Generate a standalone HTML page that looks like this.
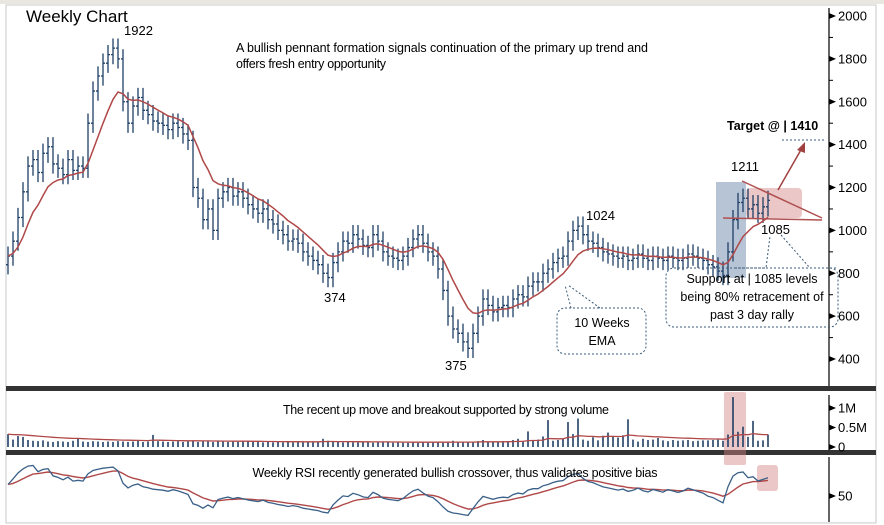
<!DOCTYPE html>
<html><head><meta charset="utf-8">
<style>
html,body{margin:0;padding:0;background:#fff;}
svg{display:block;font-family:"Liberation Sans Narrow","Liberation Sans",sans-serif;}
</style></head>
<body>
<svg id="chart" width="884" height="525" viewBox="0 0 884 525" xmlns="http://www.w3.org/2000/svg">
<rect x="0" y="0" width="884" height="525" fill="#fff"/>
<rect x="0" y="0" width="884" height="4" fill="#e8e8e0"/>
<rect x="6" y="5" width="870" height="518" fill="none" stroke="#c8c8c8"/>
<line x1="829" y1="8" x2="829" y2="386" stroke="#000" stroke-width="1.2"/>
<line x1="829" y1="395" x2="829" y2="450" stroke="#000" stroke-width="1.2"/>
<line x1="829" y1="457" x2="829" y2="522" stroke="#000" stroke-width="1.2"/>
<rect x="6" y="386" width="870" height="5" fill="#333"/>
<rect x="6" y="450" width="870" height="5" fill="#333"/>
<g id="annot-back"></g>
<g id="marks"></g>
<g id="axes"></g>
<g id="annot" font-size="12.5" fill="#000">
<text x="26" y="22" font-size="17">Weekly Chart</text>
<text x="124" y="35" font-size="13">1922</text>
<text x="236" y="52" textLength="412">A bullish pennant formation  signals continuation of the primary up trend and</text>
<text x="236" y="68" textLength="150">offers fresh entry opportunity</text>
<text x="324" y="302" font-size="13">374</text>
<text x="445" y="370" font-size="13">375</text>
<text x="586" y="220" font-size="13">1024</text>
<text x="731" y="171" font-size="13">1211</text>
<text x="761" y="234" font-size="13">1085</text>
<text x="727" y="130" font-size="12.5" font-weight="bold">Target @ | 1410</text>
<line x1="782" y1="140" x2="824" y2="140" stroke="#3a5a7a" stroke-dasharray="2,2"/>
<line x1="742" y1="181" x2="822" y2="218" stroke="#b05050" stroke-width="1.5"/>
<line x1="723" y1="218" x2="822" y2="220" stroke="#b05050" stroke-width="1.5"/>
<line x1="778" y1="190" x2="802" y2="148" stroke="#a04040" stroke-width="1.5"/>
<polygon points="805,142 797,150 805,153" fill="#a04040"/>
<rect x="666" y="268" width="172" height="59" rx="8" fill="none" stroke="#3a5a7a" stroke-dasharray="2,2"/>
<polyline points="735,268 766,268 770,236" fill="none" stroke="#3a5a7a" stroke-dasharray="2,2"/>
<polyline points="781,235 810,268 838,268" fill="none" stroke="#3a5a7a" stroke-dasharray="2,2"/>
<text x="752" y="283" text-anchor="middle">Support at | 1085 levels</text>
<text x="752" y="301" text-anchor="middle">being 80% retracement of</text>
<text x="752" y="319" text-anchor="middle">past 3 day rally</text>
<rect x="557" y="308" width="89" height="46" rx="8" fill="none" stroke="#3a5a7a" stroke-dasharray="2,2"/>
<polyline points="571,308 565,285" fill="none" stroke="#3a5a7a" stroke-dasharray="2,2"/>
<polyline points="600,308 568,285" fill="none" stroke="#3a5a7a" stroke-dasharray="2,2"/>
<text x="602" y="327" text-anchor="middle">10 Weeks</text>
<text x="602" y="345" text-anchor="middle">EMA</text>
<text x="446" y="414" text-anchor="middle" textLength="326">The recent up move and breakout supported by strong volume</text>
<text x="455" y="477" text-anchor="middle" textLength="405">Weekly RSI recently generated bullish crossover, thus validates positive bias</text>
</g>
</svg>
<script>
var closes=[880,950,1060,1180,1300,1330,1270,1360,1390,1310,
1290,1260,1330,1280,1300,1290,1500,1650,1720,1780,
1820,1850,1800,1600,1500,1580,1620,1560,1540,1510,
1500,1490,1470,1500,1480,1450,1420,1200,1150,1050,
1100,1000,1150,1180,1200,1160,1180,1150,1120,1100,
1080,1100,1050,1030,1000,980,950,960,940,900,
880,860,840,800,780,850,900,950,940,980,
960,930,920,980,950,900,880,870,860,880,
920,960,980,940,900,880,820,720,600,540,
520,480,450,520,600,680,650,620,640,650,
640,680,700,690,740,760,760,800,820,850,
870,880,950,1000,1020,980,950,940,920,900,
890,880,870,880,860,870,890,870,860,880,
870,860,880,870,860,870,890,880,870,860,
840,830,810,790,900,1050,1130,1150,1100,1120,1080,1110,1140];
var volumesK=[330,190,280,260,180,160,150,170,140,130,
150,140,130,160,230,140,130,150,140,130,
140,130,150,140,130,140,160,130,140,310,
150,140,130,140,150,130,140,160,130,150,
140,130,150,140,130,140,130,150,140,130,
130,120,130,120,130,120,130,120,130,120,
130,120,130,210,160,140,130,120,130,120,
120,130,120,110,120,130,120,110,120,110,
110,120,110,130,110,120,140,110,120,160,
130,120,140,130,150,180,130,140,130,150,
140,180,210,150,400,180,190,270,690,160,
180,220,640,330,730,190,160,250,170,290,
370,260,240,300,710,190,140,210,180,190,
230,170,150,180,160,170,180,150,160,170,
170,180,190,160,320,1280,390,520,260,670,
160,170,320];
var priceTicks=[2000,1800,1600,1400,1200,1000,800,600,400];
var volTicks=[0,500,1000];
var volTickLabels=["0","0.5M","1M"];
var rsiTicks=[50];

var NS="http://www.w3.org/2000/svg";
function mk(tag,attrs,parent){var e=document.createElementNS(NS,tag);for(var k in attrs)e.setAttribute(k,attrs[k]);parent.appendChild(e);return e;}
function xAt(i){return 8+i*5;}
function yP(v){return 16+(2000-v)*0.2144;}
function yV(v){return 447-v*0.039;}
function yR(v){return 492-(v-50)*0.75;}
var marks=document.getElementById('marks');
var axes=document.getElementById('axes');
var back=document.getElementById('annot-back');

var r1=mk('rect',{x:716,y:182,width:30,height:96,fill:'rgba(95,125,165,0.45)'},back);


var r2=mk('rect',{x:746,y:188,width:56,height:30,rx:4,fill:'rgba(210,130,130,0.45)'},back);


var r3=mk('rect',{x:724,y:392,width:22,height:73,rx:2,fill:'rgba(210,130,130,0.45)'},back);


var r4=mk('rect',{x:757,y:465,width:21,height:26,rx:3,fill:'rgba(210,130,130,0.45)'},back);



for(var i=0;i<closes.length;i++){
  var c=closes[i],o=i>0?closes[i-1]:c-40;
  var hi=Math.max(o,c)+45,lo=Math.min(o,c)-45;
  var x=xAt(i);
  var b=mk('path',{d:'M'+x+' '+yP(hi)+'V'+yP(lo)+'M'+(x-2)+' '+yP(o)+'H'+x+'M'+x+' '+yP(c)+'H'+(x+2),stroke:'#1f3f66',fill:'none','stroke-width':1.3},marks);
  
  
}
var ema=[],k=2/11,d='';
for(var i=0;i<closes.length;i++){ema[i]=i?closes[i]*k+ema[i-1]*(1-k):closes[i];d+=(i?'L':'M')+xAt(i)+' '+yP(ema[i]).toFixed(1);}
var el=mk('path',{d:d,stroke:'#b04848',fill:'none','stroke-width':1.5},marks);



for(var i=0;i<volumesK.length;i++){
  var x=xAt(i);
  var vb=mk('line',{x1:x,x2:x,y1:yV(0),y2:yV(volumesK[i]),stroke:'#1f3f66','stroke-width':1.6},marks);
  
  
}
var vma=[],dv='';
for(var i=0;i<volumesK.length;i++){vma[i]=i?volumesK[i]*0.08+vma[i-1]*0.92:volumesK[i];dv+=(i?'L':'M')+xAt(i)+' '+yV(vma[i]).toFixed(1);}
var vl=mk('path',{d:dv,stroke:'#b04848',fill:'none','stroke-width':1.3},marks);



var rsi=[],ag=0,al=0,n=14;
for(var i=0;i<closes.length;i++){
  var ch=i?closes[i]-closes[i-1]:0;
  var g=Math.max(ch,0),l=Math.max(-ch,0);
  if(i===0){ag=15;al=10;}
  ag=(ag*(n-1)+g)/n;al=(al*(n-1)+l)/n;
  rsi[i]=100-100/(1+ag/Math.max(al,0.001));
}
var sig=[],dr='',ds='';
for(var i=0;i<rsi.length;i++){
  sig[i]=i?rsi[i]*0.2+sig[i-1]*0.8:rsi[i];
  var yr=Math.max(458,Math.min(520,yR(rsi[i]))),ys=Math.max(458,Math.min(520,yR(sig[i])));
  dr+=(i?'L':'M')+xAt(i)+' '+yr.toFixed(1);ds+=(i?'L':'M')+xAt(i)+' '+ys.toFixed(1);
}
var sl=mk('path',{d:ds,stroke:'#b04848',fill:'none','stroke-width':1.4},marks);


var rl=mk('path',{d:dr,stroke:'#3a6088',fill:'none','stroke-width':1.3},marks);



function tick(y,label,name){
  mk('polygon',{points:'829,'+(y-3)+' 836,'+y+' 829,'+(y+3),fill:'#000'},axes);
  var t=mk('text',{x:838,y:y+4.5,'font-size':13,fill:'#000'},axes);
  t.textContent=label;
  
  
}
for(var j=0;j<priceTicks.length;j++){
  tick(yP(priceTicks[j]),String(priceTicks[j]),'price-tick-label');
  if(j<priceTicks.length-1)mk('line',{x1:829,x2:833,y1:yP(priceTicks[j]-100),y2:yP(priceTicks[j]-100),stroke:'#000'},axes);
}
for(var j=0;j<volTicks.length;j++)tick(yV(volTicks[j]),volTickLabels[j],'volume-tick-label');
mk('polygon',{points:'829,493 836,496 829,499',fill:'#000'},axes);
var rl50=mk('text',{x:838,y:500.5,'font-size':13,fill:'#000'},axes);
rl50.textContent=String(rsiTicks[0]);


</script>
</body></html>
